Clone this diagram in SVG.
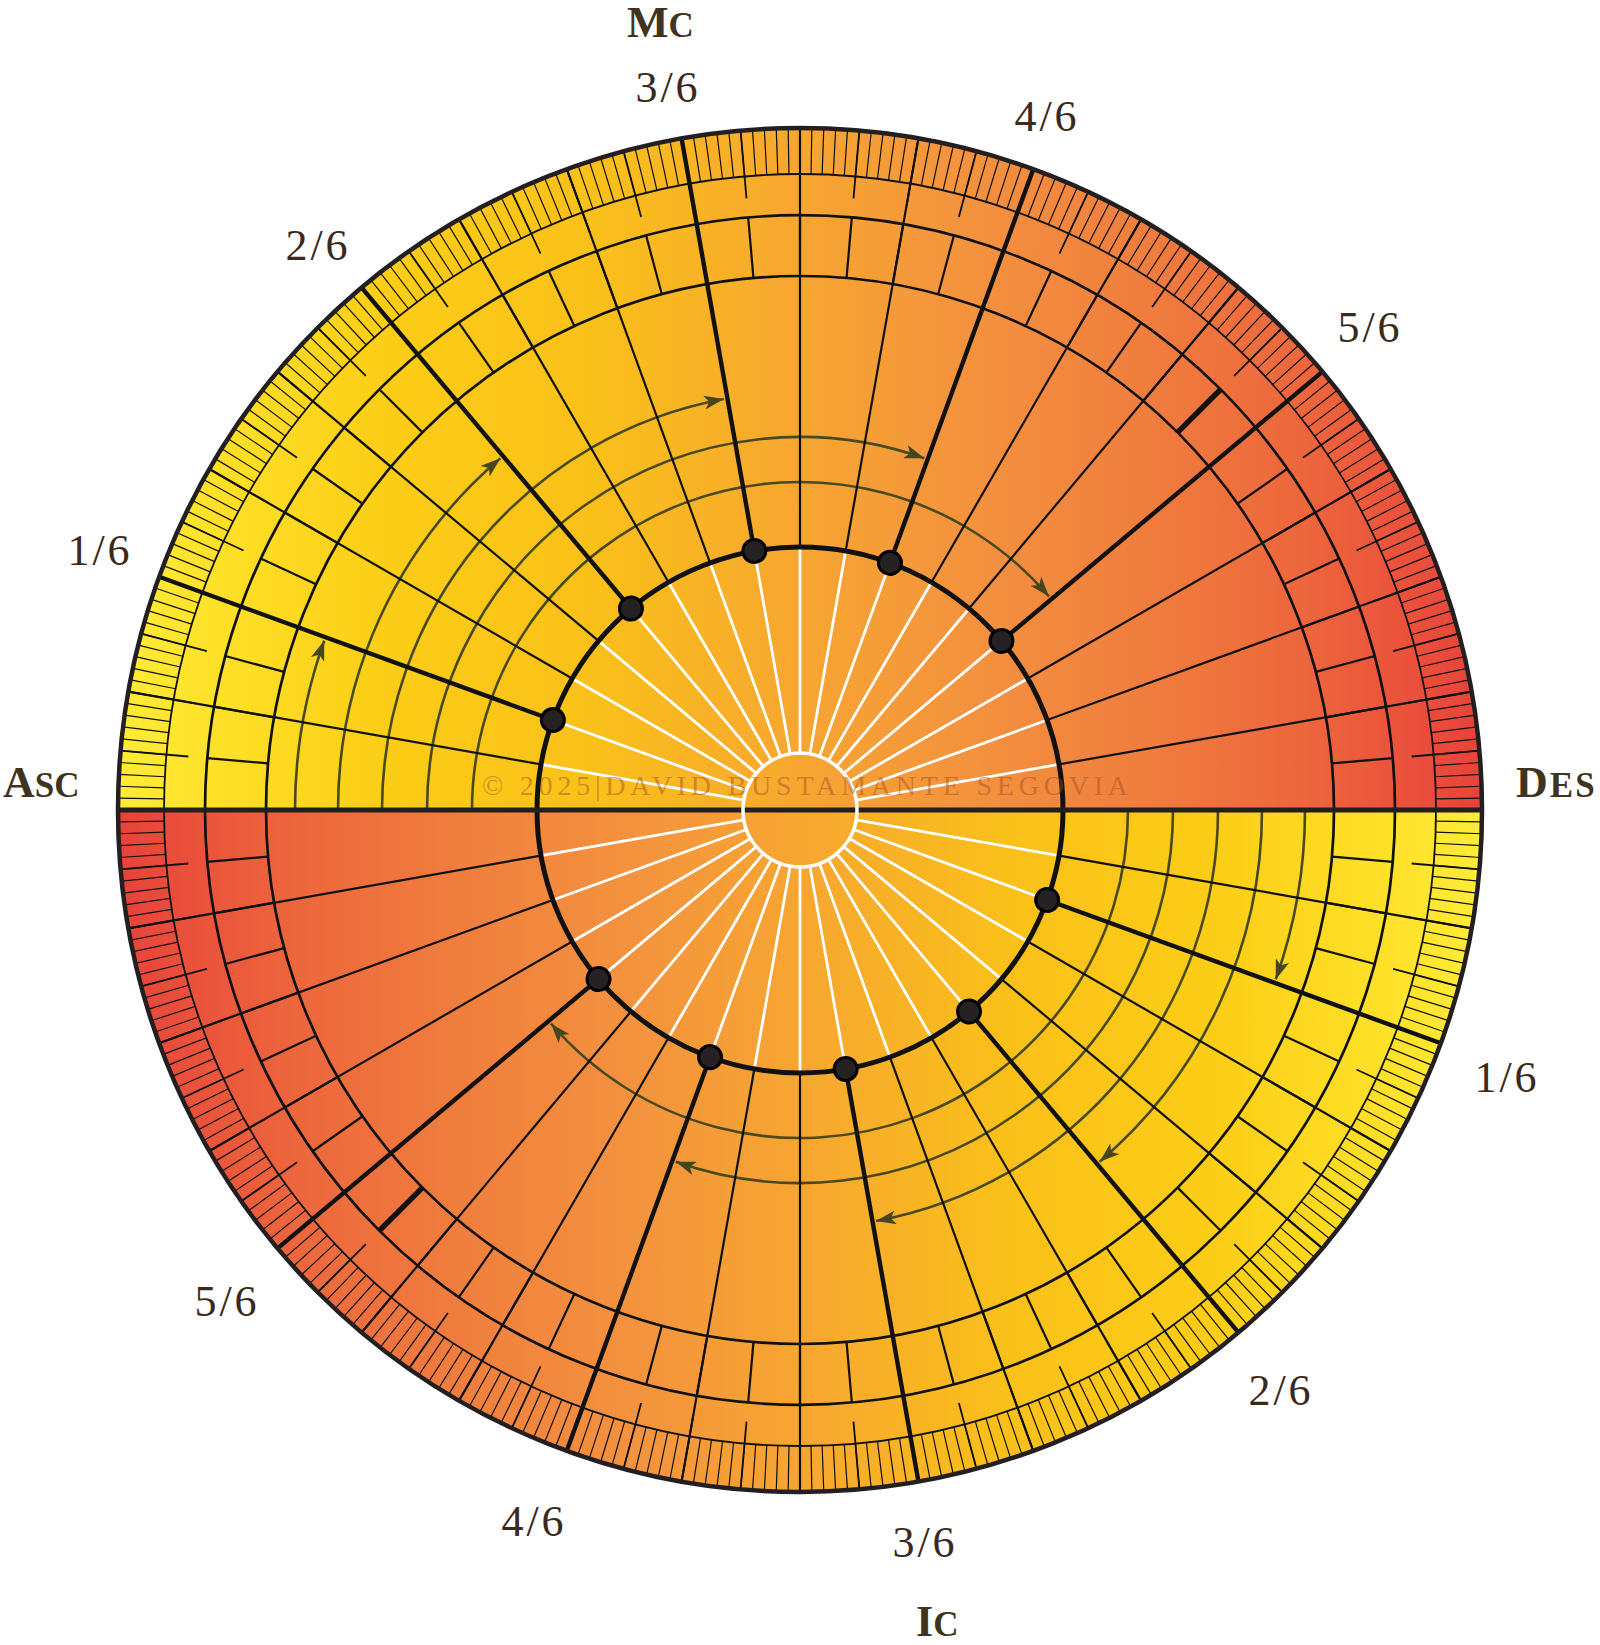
<svg xmlns="http://www.w3.org/2000/svg" width="1600" height="1645" viewBox="0 0 1600 1645">
<style>
.wl{stroke:#fff;stroke-width:2.8}
.l10{stroke:#111;stroke-width:2.2}
.cu{stroke:#111;stroke-width:4.4}
.ring{fill:none;stroke:#111}
.arc{fill:none;stroke:#48491f;stroke-width:2.6;marker-end:url(#ah)}
.frac{font-family:"Liberation Serif","DejaVu Serif",serif;fill:#3a2a1c;font-size:44px;letter-spacing:3px;text-anchor:middle}
.big{font-family:"Liberation Serif","DejaVu Serif",serif;font-weight:bold;fill:#3f3420;font-size:44px}
.sc{font-size:35px}
.wm{font-family:"Liberation Serif","DejaVu Serif",serif;font-size:28px;fill:#9c4a1e;fill-opacity:0.45}
</style>
<defs>
<linearGradient id="g" gradientUnits="userSpaceOnUse" x1="118" y1="0" x2="1482" y2="0">
<stop offset="0" stop-color="#FFEC38"/>
<stop offset="0.08" stop-color="#FEDF27"/>
<stop offset="0.2" stop-color="#FCCD16"/>
<stop offset="0.35" stop-color="#FAC01A"/>
<stop offset="0.5" stop-color="#F7A631"/>
<stop offset="0.62" stop-color="#F4933E"/>
<stop offset="0.75" stop-color="#F07E3E"/>
<stop offset="0.87" stop-color="#ED663C"/>
<stop offset="0.95" stop-color="#EA503B"/>
<stop offset="1" stop-color="#E7423A"/>
</linearGradient>
<marker id="ah" markerUnits="userSpaceOnUse" markerWidth="20" markerHeight="14" viewBox="0 0 20 14" refX="20" refY="7" orient="auto">
<path d="M0,0 L20,7 L0,14 L5,7 Z" fill="#45461b"/>
</marker>
<line id="w" x1="857" y1="810" x2="1063" y2="810" class="wl"/>
<line id="d" x1="1063" y1="810" x2="1482" y2="810" class="l10"/>
<line id="c" x1="1063" y1="810" x2="1482" y2="810" class="cu"/>
<circle id="dot" cx="1063" cy="810" r="11.5" fill="#262223" stroke="#000" stroke-width="3"/>
</defs>

<g id="top">
<path id="halfdisk" d="M118 810A682 682 0 0 1 1482 810Z" fill="url(#g)"/>
<g id="spokes">
<use href="#w" transform="rotate(-10 800 810)"/>
<use href="#w" transform="rotate(-20 800 810)"/>
<use href="#w" transform="rotate(-30 800 810)"/>
<use href="#w" transform="rotate(-40 800 810)"/>
<use href="#w" transform="rotate(-50 800 810)"/>
<use href="#w" transform="rotate(-60 800 810)"/>
<use href="#w" transform="rotate(-70 800 810)"/>
<use href="#w" transform="rotate(-80 800 810)"/>
<use href="#w" transform="rotate(-90 800 810)"/>
<use href="#w" transform="rotate(-100 800 810)"/>
<use href="#w" transform="rotate(-110 800 810)"/>
<use href="#w" transform="rotate(-120 800 810)"/>
<use href="#w" transform="rotate(-130 800 810)"/>
<use href="#w" transform="rotate(-140 800 810)"/>
<use href="#w" transform="rotate(-150 800 810)"/>
<use href="#w" transform="rotate(-160 800 810)"/>
<use href="#w" transform="rotate(-170 800 810)"/>
</g>
<g id="arrows">
<path class="arc" d="M295 810A505 505 0 0 1 324.26 640.6"/>
<path class="arc" d="M338 810A462 462 0 0 1 500.37 458.32"/>
<path class="arc" d="M382 810A418 418 0 0 1 723.97 398.96"/>
<path class="arc" d="M427 810A373 373 0 0 1 924.27 458.29"/>
<path class="arc" d="M472 810A328 328 0 0 1 1049.02 596.49"/>
</g>
<g id="ticks">
<path d="M141 810A659 659 0 0 1 1459 810" pathLength="180" fill="none" stroke="#111" stroke-width="46" stroke-dasharray="0.105 0.895" stroke-dashoffset="0.0525"/>
<path d="M152 810A648 648 0 0 1 1448 810" pathLength="36" fill="none" stroke="#111" stroke-width="68" stroke-dasharray="0.032 0.968" stroke-dashoffset="0.016"/>
<path d="M235.5 810A564.5 564.5 0 0 1 1364.5 810" pathLength="36" fill="none" stroke="#111" stroke-width="61" stroke-dasharray="0.045 0.955" stroke-dashoffset="0.0225"/>
</g>
<g id="tens">
<use href="#d" transform="rotate(-10 800 810)"/>
<use href="#d" transform="rotate(-20 800 810)"/>
<use href="#d" transform="rotate(-30 800 810)"/>
<use href="#d" transform="rotate(-50 800 810)"/>
<use href="#d" transform="rotate(-60 800 810)"/>
<use href="#d" transform="rotate(-80 800 810)"/>
<use href="#d" transform="rotate(-90 800 810)"/>
<use href="#d" transform="rotate(-110 800 810)"/>
<use href="#d" transform="rotate(-120 800 810)"/>
<use href="#d" transform="rotate(-140 800 810)"/>
<use href="#d" transform="rotate(-150 800 810)"/>
<use href="#d" transform="rotate(-170 800 810)"/>
</g>
<g id="cusps">
<use href="#c" transform="rotate(-40 800 810)"/>
<use href="#c" transform="rotate(-70 800 810)"/>
<use href="#c" transform="rotate(-100 800 810)"/>
<use href="#c" transform="rotate(-130 800 810)"/>
<use href="#c" transform="rotate(-160 800 810)"/>
<line x1="1334" y1="810" x2="1395" y2="810" stroke="#111" stroke-width="5.5" transform="rotate(-45 800 810)"/>
</g>
<g id="rings">
<path class="ring" stroke-width="1.8" d="M164 810A636 636 0 0 1 1436 810"/>
<path class="ring" stroke-width="2.7" d="M205 810A595 595 0 0 1 1395 810"/>
<path class="ring" stroke-width="2.7" d="M266 810A534 534 0 0 1 1334 810"/>
<path class="ring" stroke-width="5" d="M537 810A263 263 0 0 1 1063 810"/>
<path fill="none" stroke="#231f20" stroke-width="4.5" d="M118 810A682 682 0 0 1 1482 810"/>
</g>
<g id="dots">
<use href="#dot" transform="rotate(-40 800 810)"/>
<use href="#dot" transform="rotate(-70 800 810)"/>
<use href="#dot" transform="rotate(-100 800 810)"/>
<use href="#dot" transform="rotate(-130 800 810)"/>
<use href="#dot" transform="rotate(-160 800 810)"/>
</g>
</g>
<use id="bottom" href="#top" transform="rotate(180 800 810)"/>

<line id="horizon" x1="116" y1="810" x2="1484" y2="810" stroke="#231f20" stroke-width="5"/>
<circle id="hub" cx="800" cy="810" r="57" fill="none" stroke="#fff" stroke-width="3.5"/>

<text class="wm" x="482" y="795" textLength="646" lengthAdjust="spacing">© 2025|DAVID BUSTAMANTE SEGOVIA</text>

<g id="angles">
<text class="big" x="627" y="37">M<tspan class="sc">C</tspan></text>
<text class="big" x="3" y="797">A<tspan class="sc">SC</tspan></text>
<text class="big" x="1516" y="797" letter-spacing="2">D<tspan class="sc">ES</tspan></text>
<text class="big" x="916" y="1636">I<tspan class="sc">C</tspan></text>
</g>
<g id="fractions">
<text class="frac" x="100" y="565">1/6</text>
<text class="frac" x="318" y="260">2/6</text>
<text class="frac" x="668" y="102">3/6</text>
<text class="frac" x="1047" y="131">4/6</text>
<text class="frac" x="1370" y="342">5/6</text>
<text class="frac" x="1507" y="1092">1/6</text>
<text class="frac" x="1281" y="1405">2/6</text>
<text class="frac" x="925" y="1557">3/6</text>
<text class="frac" x="534" y="1536">4/6</text>
<text class="frac" x="227" y="1316">5/6</text>
</g>
</svg>
